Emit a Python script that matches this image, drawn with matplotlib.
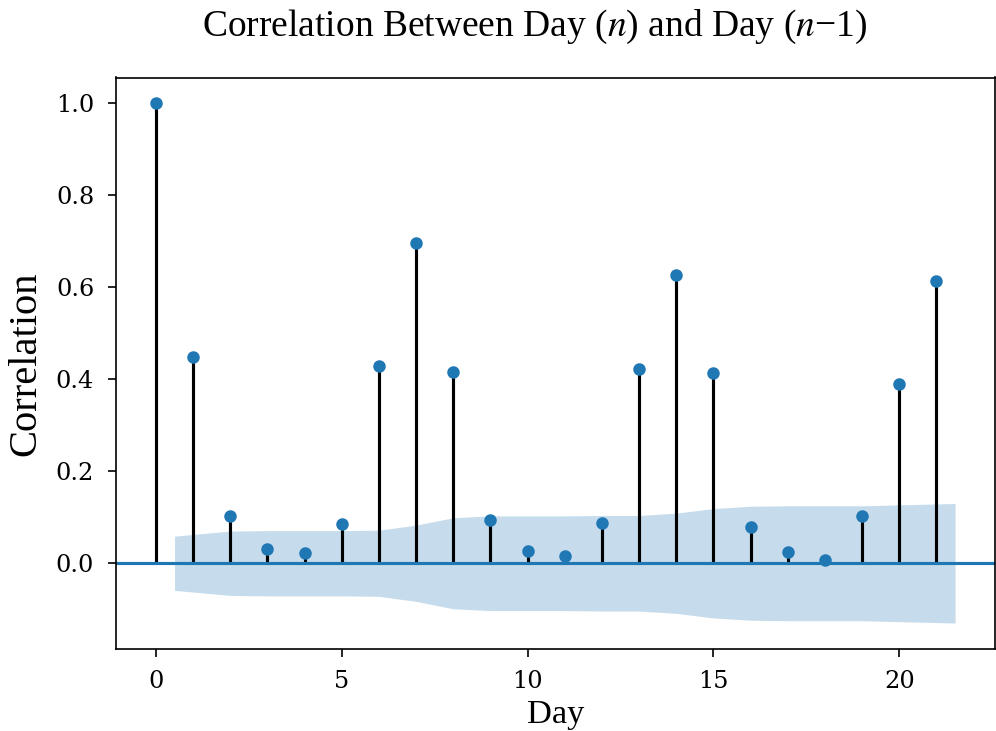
import numpy as np
import matplotlib
matplotlib.use("Agg")
import matplotlib.pyplot as plt

plt.rcParams['font.family'] = ['DejaVu Serif']
plt.rcParams['mathtext.fontset'] = 'stix'

lags = list(range(22))
acf_values = [1.0, 0.448, 0.103, 0.032, 0.023, 0.086, 0.428, 0.696, 0.417, 0.094,
              0.027, 0.016, 0.087, 0.422, 0.628, 0.413, 0.079, 0.025, 0.007, 0.103,
              0.389, 0.613]
# half-width of the confidence band for lags 1..21
conf_half = [0.059, 0.070, 0.071, 0.071, 0.071, 0.072, 0.083, 0.099, 0.103, 0.103,
             0.103, 0.104, 0.104, 0.109, 0.119, 0.124, 0.125, 0.125, 0.125, 0.127,
             0.130]

title = "Correlation Between Day ($n$) and Day ($n$\u22121)"
xlabel = "Day"
ylabel = "Correlation"

fig = plt.figure(figsize=(996/150, 731/150), dpi=150)
ax = fig.add_axes([116/996, 1-649/731, (995-116)/996, (649-77.5)/731])

x = np.array(lags, dtype=float)
y = np.array(acf_values)
ax.vlines(x, [0], y, colors='black', linewidth=1.5)
ax.axhline(0, color='C0', linewidth=1.5)
ax.margins(0.05)
ax.plot(x, y, marker='o', markersize=5, linestyle='None', color='C0')

fx = x[1:].copy()
fx[0] -= 0.5
fx[-1] += 0.5
ch = np.array(conf_half)
ax.fill_between(fx, -ch, ch, alpha=0.25, color='C0', linewidth=0)

ax.set_xticks([0, 5, 10, 15, 20])
ax.set_yticks([0.0, 0.2, 0.4, 0.6, 0.8, 1.0])
ax.tick_params(labelsize=11.5, length=4)
ax.tick_params(axis='x', pad=6)
ax.tick_params(axis='y', pad=6.5)

ax.set_xlabel(xlabel, fontfamily='Liberation Serif', fontsize=16.5, va='top')
ax.xaxis.set_label_coords(0.5, (649-700)/571.5)
ax.set_ylabel(ylabel, fontfamily='Liberation Serif', fontsize=19.5)
ax.yaxis.set_label_coords((44-116)/879, 0.5)
fig.text(535/996, 1-27/731, title, ha='center', va='center',
         fontfamily='Liberation Serif', fontsize=18)

fig.savefig("out.png", dpi=150)
